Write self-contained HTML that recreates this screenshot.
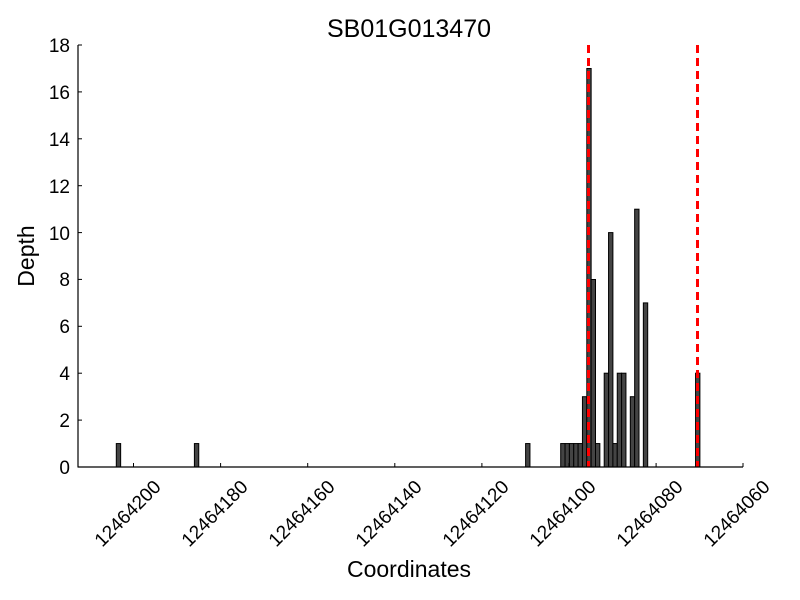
<!DOCTYPE html>
<html><head><style>body{margin:0;background:#fff}svg{display:block}</style></head><body>
<svg width="800" height="600" xmlns="http://www.w3.org/2000/svg" font-family="Liberation Sans, DejaVu Sans, sans-serif">
<rect width="800" height="600" fill="#fff"/>
<text x="409" y="37" font-size="25" text-anchor="middle">SB01G013470</text>
<g fill="#444" stroke="#000" stroke-width="1">
<rect x="116.3" y="443.56" width="4.35" height="23.44"/>
<rect x="194.4" y="443.56" width="4.35" height="23.44"/>
<rect x="525.6" y="443.56" width="4.35" height="23.44"/>
<rect x="560.7" y="443.56" width="4.35" height="23.44"/>
<rect x="565.05" y="443.56" width="4.35" height="23.44"/>
<rect x="569.4" y="443.56" width="4.35" height="23.44"/>
<rect x="573.75" y="443.56" width="4.35" height="23.44"/>
<rect x="578.1" y="443.56" width="4.35" height="23.44"/>
<rect x="582.45" y="396.7" width="4.35" height="70.3"/>
<rect x="586.8" y="68.5" width="4.35" height="398.5"/>
<rect x="591.15" y="279.5" width="4.35" height="187.5"/>
<rect x="595.5" y="443.56" width="4.35" height="23.44"/>
<rect x="604.2" y="373.2" width="4.35" height="93.8"/>
<rect x="608.55" y="232.6" width="4.35" height="234.4"/>
<rect x="612.9" y="443.56" width="4.35" height="23.44"/>
<rect x="617.25" y="373.2" width="4.35" height="93.8"/>
<rect x="621.6" y="373.2" width="4.35" height="93.8"/>
<rect x="630.3" y="396.7" width="4.35" height="70.3"/>
<rect x="634.65" y="209.2" width="4.35" height="257.8"/>
<rect x="643.35" y="302.9" width="4.35" height="164.1"/>
<rect x="695.55" y="373.2" width="4.35" height="93.8"/>
</g>
<g stroke="#f00" stroke-width="3" stroke-dasharray="8,5">
<line x1="588.5" y1="45" x2="588.5" y2="467"/>
<line x1="697.5" y1="45" x2="697.5" y2="467"/>
</g>
<g stroke="#000" stroke-width="1.2" fill="none">
<line x1="78" y1="45" x2="78" y2="467.5"/>
<line x1="78" y1="467" x2="743" y2="467"/>
</g>
<g stroke="#000" stroke-width="1">
<line x1="78" y1="45" x2="82" y2="45"/><line x1="78" y1="91.9" x2="82" y2="91.9"/>
<line x1="78" y1="138.8" x2="82" y2="138.8"/><line x1="78" y1="185.7" x2="82" y2="185.7"/>
<line x1="78" y1="232.6" x2="82" y2="232.6"/><line x1="78" y1="279.4" x2="82" y2="279.4"/>
<line x1="78" y1="326.3" x2="82" y2="326.3"/><line x1="78" y1="373.2" x2="82" y2="373.2"/>
<line x1="78" y1="420.1" x2="82" y2="420.1"/>
<line x1="133.5" y1="467" x2="133.5" y2="463"/><line x1="220.6" y1="467" x2="220.6" y2="463"/>
<line x1="307.7" y1="467" x2="307.7" y2="463"/><line x1="394.8" y1="467" x2="394.8" y2="463"/>
<line x1="481.9" y1="467" x2="481.9" y2="463"/><line x1="569" y1="467" x2="569" y2="463"/>
<line x1="656.1" y1="467" x2="656.1" y2="463"/><line x1="743" y1="467" x2="743" y2="463"/>
</g>
<g font-size="19" text-anchor="end">
<text x="70" y="52">18</text><text x="70" y="99">16</text><text x="70" y="146">14</text>
<text x="70" y="193">12</text><text x="70" y="240">10</text><text x="70" y="286">8</text>
<text x="70" y="333">6</text><text x="70" y="380">4</text><text x="70" y="427">2</text>
<text x="70" y="474">0</text>
</g>
<g font-size="19" text-anchor="end">
<text transform="translate(162,488) rotate(-45)">12464200</text>
<text transform="translate(249,488) rotate(-45)">12464180</text>
<text transform="translate(336,488) rotate(-45)">12464160</text>
<text transform="translate(423,488) rotate(-45)">12464140</text>
<text transform="translate(510,488) rotate(-45)">12464120</text>
<text transform="translate(597,488) rotate(-45)">12464100</text>
<text transform="translate(684,488) rotate(-45)">12464080</text>
<text transform="translate(771,488) rotate(-45)">12464060</text>
</g>
<text x="409" y="577" font-size="23" text-anchor="middle">Coordinates</text>
<text transform="translate(34,256) rotate(-90)" font-size="23" text-anchor="middle">Depth</text>
</svg>
</body></html>
